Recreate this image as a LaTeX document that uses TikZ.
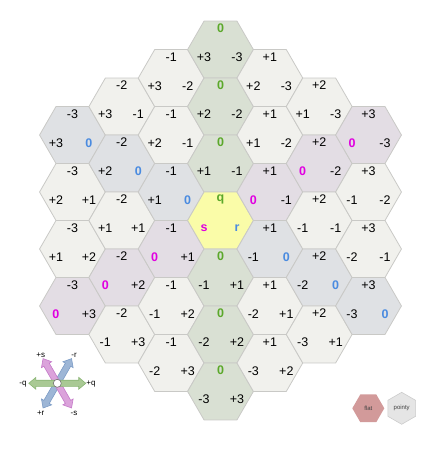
\documentclass[tikz,border=0pt]{standalone}
\usepackage{fontspec}
\setmainfont{Liberation Sans}
\usetikzlibrary{shapes.geometric,shapes.arrows}
\definecolor{hexfill}{HTML}{F1F1ED}
\definecolor{hexline}{HTML}{C9C9C6}
\definecolor{qfill}{HTML}{D9E0D3}
\definecolor{rfill}{HTML}{DFE1E4}
\definecolor{sfill}{HTML}{E3DDE4}
\definecolor{cfill}{HTML}{FAFCA8}
\definecolor{qcol}{HTML}{5BA82A}
\definecolor{rcol}{HTML}{4A8BE0}
\definecolor{scol}{HTML}{E000E0}
\definecolor{garrow}{HTML}{A9C994}
\definecolor{garrowl}{HTML}{8AB574}
\definecolor{barrow}{HTML}{9DB6D6}
\definecolor{barrowl}{HTML}{7C9CC6}
\definecolor{marrow}{HTML}{DBA3DB}
\definecolor{marrowl}{HTML}{C479C8}
\definecolor{flatfill}{HTML}{D29A9A}
\definecolor{pointyfill}{HTML}{E5E5E5}
\newcommand\hexval[2]{\ifnum#1=0 \textcolor{#2}{\bfseries 0}\else\ifnum#1>0 +#1\else#1\fi\fi}
\begin{document}
\begin{tikzpicture}[x=1pt,y=-1pt,
  hexcell/.style={regular polygon, regular polygon sides=6, minimum size=65.8pt,
    inner sep=0pt, outer sep=0pt, draw=hexline, line width=0.8pt},
  num/.style={font=\fontsize{12.5}{14}\selectfont, inner sep=0pt, text=black},
  axisarrow/.style={double arrow, double arrow head extend=2.8pt, double arrow tip angle=80,
    minimum height=57pt, inner xsep=0pt, inner ysep=2.8pt, line width=0.6pt},
  leg/.style={font=\fontsize{8}{9}\selectfont, inner sep=0pt, text=black},
  btn/.style={regular polygon, regular polygon sides=6, minimum size=32pt, inner sep=0pt,
    font=\fontsize{6}{7}\selectfont, text=black!75}]
\useasboundingbox (0,0) rectangle (443,474);
\foreach \q in {-3,...,3}{
  \pgfmathtruncatemacro\rmin{max(-3,-\q-3)}
  \pgfmathtruncatemacro\rmax{min(3,3-\q)}
  \foreach \r in {\rmin,...,\rmax}{
    \pgfmathtruncatemacro\s{-\q-\r}
    \pgfmathtruncatemacro\qi{\q+3}
    \pgfmathtruncatemacro\ri{\r+3}
    \pgfmathsetmacro\cx{220.5+49.35*\q}
    \pgfmathsetmacro\cy{220.5+56.98*(\r+\q/2)}
    \ifnum\q=0 \ifnum\r=0 \def\hf{cfill}\else\def\hf{qfill}\fi
    \else\ifnum\r=0 \def\hf{rfill}\else\ifnum\s=0 \def\hf{sfill}\else\def\hf{hexfill}\fi\fi\fi
    \node[hexcell, fill=\hf] (h\qi\ri) at (\cx,\cy) {};
    \pgfmathtruncatemacro\isc{(\q==0)&&(\r==0)}
    \ifnum\isc=1
      \node[num, text=qcol, font=\fontsize{12.5}{14}\selectfont\bfseries] (t\qi\ri) at (\cx,\cy-21) {q};
      \node[num, text=scol, font=\fontsize{12.5}{14}\selectfont\bfseries] (s\qi\ri) at (\cx-16.5,\cy+8) {s};
      \node[num, text=rcol, font=\fontsize{12.5}{14}\selectfont\bfseries] (r\qi\ri) at (\cx+16.5,\cy+8) {r};
    \else
      \node[num] (t\qi\ri) at (\cx,\cy-21) {\hexval{\q}{qcol}};
      \node[num] (s\qi\ri) at (\cx-16.5,\cy+8) {\hexval{\s}{scol}};
      \node[num] (r\qi\ri) at (\cx+16.5,\cy+8) {\hexval{\r}{rcol}};
    \fi
  }
}
% legend
\coordinate (lc) at (57.3,383.3);
\node[axisarrow, fill=barrow, draw=barrowl, rotate=60] (ba) at (lc) {};
\node[axisarrow, fill=marrow, draw=marrowl, rotate=120] (ma) at (lc) {};
\node[axisarrow, fill=garrow, draw=garrowl] (ga) at (lc) {};
\node[circle, draw=black!55, fill=white, minimum size=8pt, inner sep=0pt, line width=0.6pt] (lo) at (lc) {};
\node[leg] (lps) at (40.7,355) {+s};
\node[leg] (lmr) at (74,355) {-r};
\node[leg] (lmq) at (23,384) {-q};
\node[leg] (lpq) at (91,384) {+q};
\node[leg] (lpr) at (40.7,413) {+r};
\node[leg] (lms) at (74,413) {-s};
% buttons
\node[btn, fill=flatfill] (flat) at (368.3,408.3) {flat};
\node[btn, fill=pointyfill, draw=black!20, line width=0.6pt, shape border rotate=30] (pointy) at (401.7,408.3) {pointy};
\end{tikzpicture}
\end{document}
